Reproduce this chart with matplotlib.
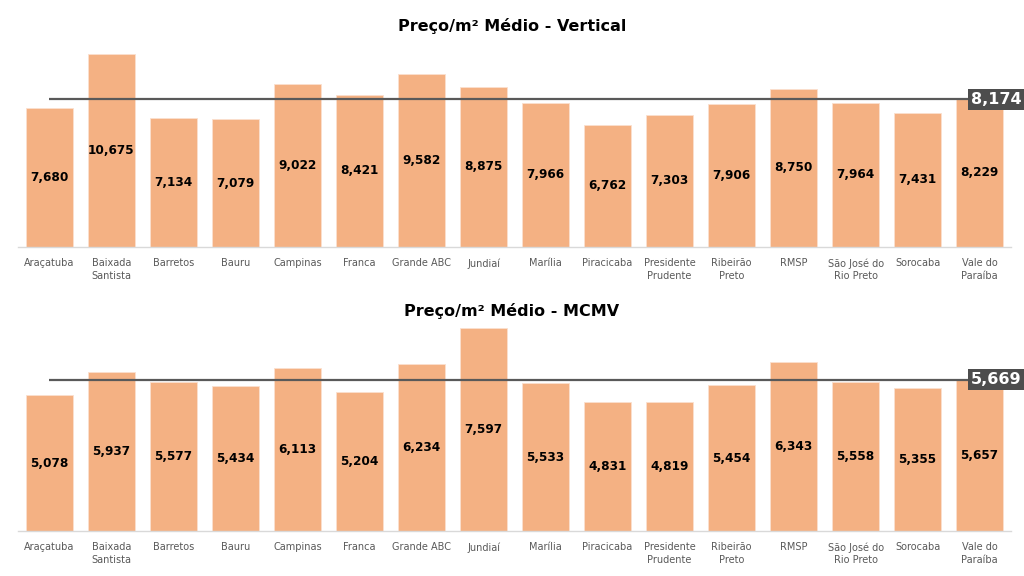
import matplotlib
matplotlib.use("Agg")
import matplotlib.pyplot as plt

regioes = [
    "Araçatuba", "Baixada\nSantista", "Barretos", "Bauru", "Campinas",
    "Franca", "Grande ABC", "Jundiaí", "Marília", "Piracicaba",
    "Presidente\nPrudente", "Ribeirão\nPreto", "RMSP", "São José do\nRio Preto",
    "Sorocaba", "Vale do\nParaíba",
]
preco_vertical = [7680, 10675, 7134, 7079, 9022, 8421, 9582, 8875,
                  7966, 6762, 7303, 7906, 8750, 7964, 7431, 8229]
media_vertical = 8174
preco_mcmv = [5078, 5937, 5577, 5434, 6113, 5204, 6234, 7597,
              5533, 4831, 4819, 5454, 6343, 5558, 5355, 5657]
media_mcmv = 5669

BAR = "#f4b183"
LINE = "#595959"


def painel(ax, valores, media, ymax):
    x = range(len(regioes))
    ax.bar(x, valores, width=0.76, color=BAR, edgecolor="#fbe0cf", linewidth=0.6)
    for xi, v in zip(x, valores):
        ax.text(xi, v / 2, f"{v:,}", ha="center", va="center",
                fontsize=8.7, fontweight="bold", color="black")
    ax.plot([0, len(regioes) - 1], [media, media], color=LINE, lw=1.6,
            solid_capstyle="butt", zorder=3)
    ax.text(len(regioes) - 1.14, media, f"{media:,}", ha="left", va="center",
            fontsize=11.5, fontweight="bold", color="white", zorder=4,
            bbox=dict(boxstyle="square,pad=0.18", fc="#4d4d4d", ec="none"))
    ax.set_xlim(-0.5, len(regioes) - 0.5)
    ax.set_ylim(0, ymax)
    ax.set_xticks(list(x))
    ax.set_xticklabels(regioes, fontsize=7, color="#595959", linespacing=1.35)
    ax.tick_params(axis="x", length=0, pad=8)
    ax.set_yticks([])
    for s in ["top", "right", "left"]:
        ax.spines[s].set_visible(False)
    ax.spines["bottom"].set_color("#d9d9d9")
    ax.spines["bottom"].set_linewidth(1.0)


fig = plt.figure(figsize=(10.24, 5.76), dpi=100)
ax1 = fig.add_axes([0.018, 1 - 247 / 576, 0.969, 0.3767])
ax2 = fig.add_axes([0.018, 1 - 531 / 576, 0.969, 0.3711])

painel(ax1, preco_vertical, media_vertical, 12000)
painel(ax2, preco_mcmv, media_mcmv, 8000)

fig.text(0.5, 1 - 26 / 576, "Preço/m² Médio - Vertical", ha="center",
         va="center", fontsize=11.5, fontweight="bold")
fig.text(0.5, 1 - 311 / 576, "Preço/m² Médio - MCMV", ha="center",
         va="center", fontsize=11.5, fontweight="bold")

fig.savefig("out.png", dpi=100)
